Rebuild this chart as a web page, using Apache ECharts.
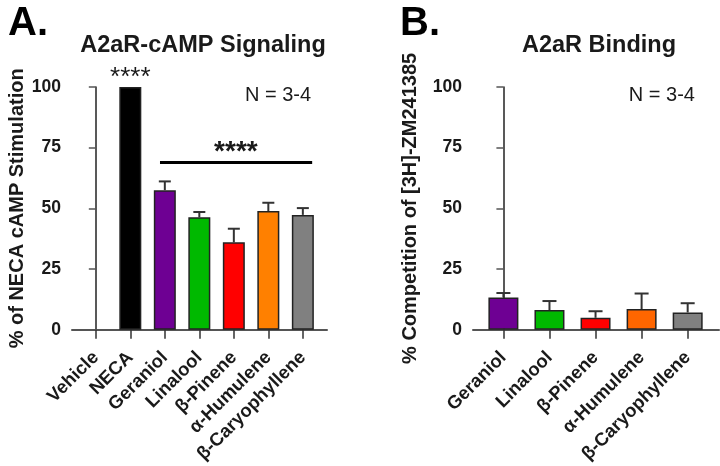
<!DOCTYPE html>
<html>
<head>
<meta charset="utf-8">
<script src="https://cdn.jsdelivr.net/npm/echarts@6/dist/echarts.min.js"></script>
<style>html,body{margin:0;padding:0;background:#fff}#c{width:720px;height:466px}</style>
</head>
<body>
<div id="c"></div>
<script>
// Panel A: A2aR-cAMP Signaling
var catsA = ['Vehicle', 'NECA', 'Geraniol', 'Linalool', 'β-Pinene', 'α-Humulene', 'β-Caryophyllene'];
var meanA = [0, 100, 57.5, 46.3, 36.0, 48.9, 47.3];
var errA = [0, 0, 3.6, 2.2, 5.6, 3.4, 2.8];
var colorsA = ['#ffffff', '#000000', '#6e0093', '#00b900', '#ff0000', '#ff8000', '#808080'];
// Panel B: A2aR Binding
var catsB = ['Geraniol', 'Linalool', 'β-Pinene', 'α-Humulene', 'β-Caryophyllene'];
var meanB = [13.3, 8.1, 4.9, 8.5, 7.1];
var errB = [1.8, 3.7, 2.7, 6.4, 3.8];
var colorsB = ['#6e0093', '#00b900', '#ff0000', '#ff6600', '#808080'];
var yTicks = [0, 25, 50, 75, 100];

var FONT = '"Liberation Sans", Arial, sans-serif';
var chart = echarts.init(document.getElementById('c'), null, {renderer: 'canvas'});

function idx(arr) { return arr.map(function (_, i) { return i; }); }

function xAxisCfg(gi, cats, min, max) {
  return {
    type: 'value', gridIndex: gi, min: min, max: max,
    splitLine: {show: false},
    axisLine: {show: true, onZero: false, lineStyle: {color: '#555', width: 2}},
    axisTick: {show: true, customValues: idx(cats), length: 9, lineStyle: {color: '#333', width: 1.5}},
    axisLabel: {
      show: true, customValues: idx(cats), rotate: 45, margin: 25,
      formatter: function (v) { return cats[Math.round(v)]; },
      fontFamily: FONT, fontWeight: 'bold', fontSize: 18.5, color: '#1a1a1a'
    }
  };
}
function yAxisCfg(gi, name, gap) {
  return {
    type: 'value', gridIndex: gi, min: 0, max: 100, interval: 25,
    splitLine: {show: false},
    axisLine: {show: true, lineStyle: {color: '#222', width: 1.5}},
    axisTick: {show: true, length: 7, lineStyle: {color: '#555', width: 1.5}},
    axisLabel: {margin: 11, fontFamily: FONT, fontWeight: 'bold', fontSize: 17.5, color: '#1a1a1a',
      customValues: yTicks},
    name: name, nameLocation: 'middle', nameRotate: 90, nameGap: gap,
    nameTextStyle: {fontFamily: FONT, fontWeight: 'bold', fontSize: 20, color: '#1a1a1a'}
  };
}
function barSeries(gi, means, colors, width, mk) {
  return {
    type: 'bar', xAxisIndex: gi, yAxisIndex: gi, barWidth: width,
    data: means.map(function (v, i) {
      return {value: [i, v], itemStyle: {color: colors[i], borderColor: '#222', borderWidth: v > 0 ? 1.5 : 0}};
    }),
    markLine: mk.line, markPoint: mk.point, z: 2
  };
}
function errSeries(gi, means, errs, halfCap) {
  return {
    type: 'custom', xAxisIndex: gi, yAxisIndex: gi, z: 1,
    data: means.map(function (v, i) { return [i, v, errs[i]]; }),
    renderItem: function (params, api) {
      var x = api.value(0), m = api.value(1), e = api.value(2);
      if (!e) return null;
      var p0 = api.coord([x, m]);
      var p1 = api.coord([x, m + e]);
      var st = {stroke: '#333', lineWidth: 2};
      return {type: 'group', children: [
        {type: 'line', shape: {x1: p0[0], y1: p0[1], x2: p1[0], y2: p1[1]}, style: st},
        {type: 'line', shape: {x1: p1[0] - halfCap, y1: p1[1], x2: p1[0] + halfCap, y2: p1[1]}, style: st}
      ]};
    }
  };
}
function txtPt(coord, text, size, weight, off) {
  return {coord: coord, symbol: 'circle', symbolSize: 0,
    label: {show: true, position: 'inside', formatter: text, fontFamily: FONT, fontSize: size,
      fontWeight: weight, color: '#1a1a1a', offset: off || [0, 0]}};
}

var option = {
  animation: false,
  backgroundColor: '#fff',
  title: [
    {text: 'A.', left: 3, top: -1, textStyle: {fontFamily: FONT, fontWeight: 'bold', fontSize: 40, color: '#000'}},
    {text: 'B.', left: 395, top: -1, textStyle: {fontFamily: FONT, fontWeight: 'bold', fontSize: 40, color: '#000'}},
    {text: 'A2aR-cAMP Signaling', left: 198, top: 29, textAlign: 'center',
      textStyle: {fontFamily: FONT, fontWeight: 'bold', fontSize: 23.5, color: '#1a1a1a'}},
    {text: 'A2aR Binding', left: 594, top: 29, textAlign: 'center',
      textStyle: {fontFamily: FONT, fontWeight: 'bold', fontSize: 23.5, color: '#1a1a1a'}}
  ],
  grid: [
    {left: 72, top: 87, width: 255, height: 246},
    {left: 473, top: 87, width: 246, height: 246}
  ],
  xAxis: [xAxisCfg(0, catsA, -0.69, 6.7), xAxisCfg(1, catsB, -0.66, 4.68)],
  yAxis: [yAxisCfg(0, '% of NECA cAMP Stimulation', 42), yAxisCfg(1, '% Competition of [3H]-ZM241385', 53)],
  series: [
    errSeries(0, meanA, errA, 6),
    barSeries(0, meanA, colorsA, 22, {
      line: {silent: true, symbol: ['none', 'none'], label: {show: false},
        lineStyle: {color: '#000', width: 3, type: 'solid'},
        data: [[{coord: [1.86, 69]}, {coord: [6.27, 69]}]]},
      point: {silent: true, data: [
        txtPt([1, 100], '****', 26, 'normal', [0, -9]),
        txtPt([4.06, 73.3], '****', 28, 'bold'),
        txtPt([5.28, 96.7], 'N = 3-4', 20, 'normal')
      ]}
    }),
    errSeries(1, meanB, errB, 7),
    barSeries(1, meanB, colorsB, 30, {
      line: undefined,
      point: {silent: true, data: [txtPt([3.44, 96.7], 'N = 3-4', 20, 'normal')]}
    })
  ]
};
chart.setOption(option);
</script>
</body>
</html>
